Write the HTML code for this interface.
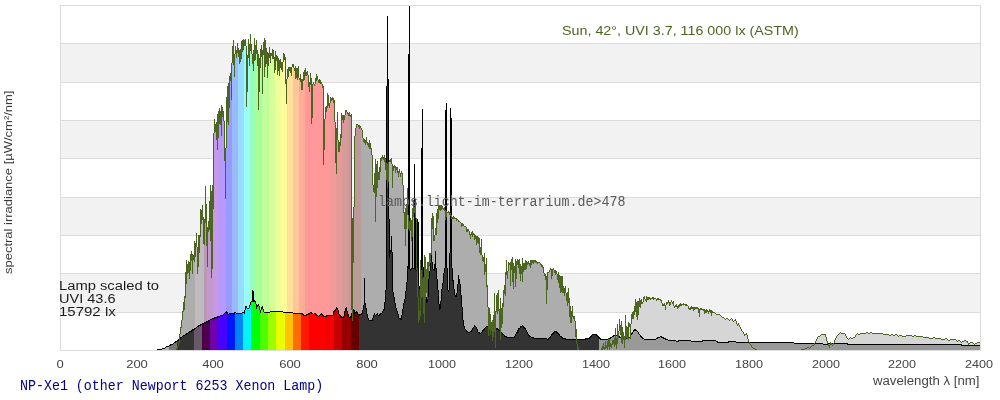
<!DOCTYPE html>
<html><head><meta charset="utf-8"><style>
html,body{margin:0;padding:0;background:#fff;width:1000px;height:400px;overflow:hidden}
body{position:relative;font-family:"Liberation Sans",sans-serif}
.t{position:absolute;white-space:pre;line-height:1;transform-origin:0 0;will-change:transform}
.tk{position:absolute;top:358px;width:60px;transform-origin:50% 0;text-align:center;font-size:11.7px;color:#444;line-height:1;transform:scaleX(1.11);will-change:transform}
.mono{font-family:"Liberation Mono",monospace}
.lm{font-size:12.5px;color:#1c1c1c}
</style></head><body>
<svg width="1000" height="400" viewBox="0 0 1000 400" shape-rendering="crispEdges" style="position:absolute;left:0;top:0"><rect x="60" y="44" width="920" height="38" fill="#f2f2f2"/><rect x="60" y="121" width="920" height="37" fill="#f2f2f2"/><rect x="60" y="198" width="920" height="37" fill="#f2f2f2"/><rect x="60" y="274" width="920" height="38" fill="#f2f2f2"/><rect x="60" y="5" width="920" height="1" fill="#dcdcdc"/><rect x="60" y="43" width="920" height="1" fill="#dcdcdc"/><rect x="60" y="82" width="920" height="1" fill="#dcdcdc"/><rect x="60" y="120" width="920" height="1" fill="#dcdcdc"/><rect x="60" y="158" width="920" height="1" fill="#dcdcdc"/><rect x="60" y="197" width="920" height="1" fill="#dcdcdc"/><rect x="60" y="235" width="920" height="1" fill="#dcdcdc"/><rect x="60" y="273" width="920" height="1" fill="#dcdcdc"/><rect x="60" y="312" width="920" height="1" fill="#dcdcdc"/><rect x="60" y="350" width="920" height="1" fill="#dcdcdc"/><rect x="60" y="5" width="1" height="346" fill="#dcdcdc"/><rect x="980" y="5" width="1" height="346" fill="#dcdcdc"/><path fill="#adadad" d="M177 349h1V350h-1zM178 346h1V350h-1zM179 343h1V350h-1zM180 334h1V350h-1zM181 328h1V350h-1zM182 320h1V350h-1zM183 312h1V350h-1zM184 310h1V350h-1zM185 298h1V350h-1zM186 284h1V350h-1zM187 274h1V350h-1zM188 273h1V350h-1zM189 279h1V350h-1zM190 271h1V350h-1zM191 261h1V350h-1zM192 274h1V350h-1zM193 260h1V350h-1zM194 262h1V350h-1zM361 130h1V350h-1zM362 138h1V350h-1zM363 142h1V350h-1zM364 143h1V350h-1zM365 145h1V350h-1zM366 143h1V350h-1zM367 145h1V350h-1zM368 147h1V350h-1zM369 149h1V350h-1zM370 149h1V350h-1zM371 155h1V350h-1zM372 185h1V350h-1zM373 192h1V350h-1zM374 193h1V350h-1zM375 222h1V350h-1zM376 197h1V350h-1zM377 188h1V350h-1zM378 180h1V350h-1zM379 180h1V350h-1zM380 172h1V350h-1zM381 161h1V350h-1zM382 159h1V350h-1zM383 160h1V350h-1zM384 162h1V350h-1zM385 170h1V350h-1zM386 180h1V350h-1zM387 188h1V350h-1zM388 182h1V350h-1zM389 162h1V350h-1zM390 162h1V350h-1zM391 164h1V350h-1zM392 188h1V350h-1zM393 171h1V350h-1zM394 168h1V350h-1zM395 173h1V350h-1zM396 170h1V350h-1zM397 173h1V350h-1zM398 177h1V350h-1zM399 173h1V350h-1zM400 177h1V350h-1zM401 174h1V350h-1zM402 185h1V350h-1zM403 213h1V350h-1zM404 229h1V350h-1zM405 246h1V350h-1zM406 229h1V350h-1zM407 215h1V350h-1zM408 229h1V350h-1zM409 231h1V350h-1zM410 231h1V350h-1zM411 241h1V350h-1zM412 237h1V350h-1zM413 217h1V350h-1zM414 213h1V350h-1zM415 218h1V350h-1zM416 270h1V350h-1zM417 297h1V350h-1zM418 323h1V350h-1zM419 320h1V350h-1zM420 316h1V350h-1zM421 298h1V350h-1zM422 297h1V350h-1zM423 314h1V350h-1zM424 323h1V350h-1zM425 299h1V350h-1zM426 293h1V350h-1zM427 299h1V350h-1zM428 279h1V350h-1zM429 266h1V350h-1zM430 263h1V350h-1zM431 255h1V350h-1zM432 229h1V350h-1zM433 241h1V350h-1zM434 241h1V350h-1zM435 235h1V350h-1zM436 235h1V350h-1zM437 223h1V350h-1zM438 219h1V350h-1zM439 210h1V350h-1zM440 211h1V350h-1zM441 210h1V350h-1zM442 209h1V350h-1zM443 210h1V350h-1zM444 211h1V350h-1zM445 220h1V350h-1zM446 217h1V350h-1zM447 213h1V350h-1zM448 213h1V350h-1zM449 215h1V350h-1zM450 216h1V350h-1zM451 219h1V350h-1zM452 219h1V350h-1zM453 219h1V350h-1zM454 219h1V350h-1zM455 219h1V350h-1zM456 221h1V350h-1zM457 220h1V350h-1zM458 222h1V350h-1zM459 222h1V350h-1zM460 223h1V350h-1zM461 227h1V350h-1zM462 226h1V350h-1zM463 226h1V350h-1zM464 227h1V350h-1zM465 227h1V350h-1zM466 232h1V350h-1zM467 232h1V350h-1zM468 231h1V350h-1zM469 235h1V350h-1zM470 239h1V350h-1zM471 235h1V350h-1zM472 237h1V350h-1zM473 235h1V350h-1zM474 240h1V350h-1zM475 239h1V350h-1zM476 245h1V350h-1zM477 243h1V350h-1zM478 244h1V350h-1zM479 253h1V350h-1zM480 255h1V350h-1zM481 255h1V350h-1zM482 261h1V350h-1zM483 262h1V350h-1zM484 275h1V350h-1zM485 272h1V350h-1zM486 287h1V350h-1zM487 307h1V350h-1zM488 336h1V350h-1zM489 329h1V350h-1zM490 335h1V350h-1zM491 331h1V350h-1zM492 341h1V350h-1zM493 337h1V350h-1zM494 332h1V350h-1zM495 348h1V350h-1zM496 312h1V350h-1zM497 314h1V350h-1zM498 311h1V350h-1zM499 330h1V350h-1zM500 340h1V350h-1zM501 328h1V350h-1zM502 324h1V350h-1zM503 307h1V350h-1zM504 294h1V350h-1zM505 296h1V350h-1zM506 275h1V350h-1zM507 279h1V350h-1zM508 271h1V350h-1zM509 265h1V350h-1zM510 286h1V350h-1zM511 270h1V350h-1zM512 282h1V350h-1zM513 289h1V350h-1zM514 273h1V350h-1zM515 287h1V350h-1zM516 279h1V350h-1zM517 265h1V350h-1zM518 268h1V350h-1zM519 274h1V350h-1zM520 281h1V350h-1zM521 274h1V350h-1zM522 282h1V350h-1zM523 272h1V350h-1zM524 270h1V350h-1zM525 270h1V350h-1zM526 269h1V350h-1zM527 265h1V350h-1zM528 264h1V350h-1zM529 266h1V350h-1zM530 268h1V350h-1zM531 265h1V350h-1zM532 263h1V350h-1zM533 264h1V350h-1zM534 262h1V350h-1zM535 263h1V350h-1zM536 263h1V350h-1zM537 264h1V350h-1zM538 263h1V350h-1zM539 263h1V350h-1zM540 265h1V350h-1zM541 267h1V350h-1zM542 268h1V350h-1zM543 273h1V350h-1zM544 276h1V350h-1zM545 280h1V350h-1zM546 304h1V350h-1zM547 290h1V350h-1zM548 273h1V350h-1zM549 272h1V350h-1zM550 270h1V350h-1zM551 279h1V350h-1zM552 276h1V350h-1zM553 270h1V350h-1zM554 273h1V350h-1zM555 275h1V350h-1zM556 274h1V350h-1zM557 280h1V350h-1zM558 283h1V350h-1zM559 288h1V350h-1zM560 293h1V350h-1zM561 292h1V350h-1zM562 293h1V350h-1zM563 293h1V350h-1zM564 296h1V350h-1zM565 293h1V350h-1zM566 301h1V350h-1zM567 306h1V350h-1zM568 303h1V350h-1zM569 317h1V350h-1zM570 323h1V350h-1zM571 323h1V350h-1zM572 317h1V350h-1zM573 319h1V350h-1zM574 321h1V350h-1zM575 337h1V350h-1zM576 344h1V350h-1z"/>
<path fill="#bebabe" d="M195 257h1V350h-1zM196 247h1V350h-1zM197 274h1V350h-1zM198 267h1V350h-1zM199 253h1V350h-1zM200 237h1V350h-1zM201 224h1V350h-1zM202 220h1V350h-1zM203 244h1V350h-1z"/>
<path fill="#b89ab8" d="M204 245h1V350h-1zM205 223h1V350h-1zM206 246h1V350h-1z"/>
<path fill="#c399cd" d="M207 267h1V350h-1zM208 232h1V350h-1zM209 230h1V350h-1zM210 241h1V350h-1zM211 278h1V350h-1zM212 269h1V350h-1z"/>
<path fill="#c499ea" d="M213 209h1V350h-1zM214 133h1V350h-1zM215 132h1V350h-1zM216 140h1V350h-1zM217 150h1V350h-1zM218 138h1V350h-1z"/>
<path fill="#b499ff" d="M219 124h1V350h-1zM220 125h1V350h-1zM221 136h1V350h-1zM222 117h1V350h-1zM223 121h1V350h-1zM224 161h1V350h-1zM225 199h1V350h-1z"/>
<path fill="#9999ff" d="M226 148h1V350h-1zM227 122h1V350h-1zM228 125h1V350h-1zM229 108h1V350h-1zM230 81h1V350h-1zM231 100h1V350h-1z"/>
<path fill="#99baff" d="M232 63h1V350h-1zM233 65h1V350h-1zM234 77h1V350h-1zM235 54h1V350h-1zM236 58h1V350h-1zM237 53h1V350h-1z"/>
<path fill="#99daff" d="M238 57h1V350h-1zM239 64h1V350h-1zM240 62h1V350h-1zM241 59h1V350h-1zM242 52h1V350h-1zM243 50h1V350h-1z"/>
<path fill="#99fbff" d="M244 46h1V350h-1zM245 46h1V350h-1zM246 107h1V350h-1zM247 92h1V350h-1zM248 58h1V350h-1zM249 66h1V350h-1z"/>
<path fill="#99ffb8" d="M250 51h1V350h-1zM251 54h1V350h-1zM252 64h1V350h-1zM253 71h1V350h-1zM254 61h1V350h-1zM255 60h1V350h-1z"/>
<path fill="#a8ff99" d="M256 54h1V350h-1zM257 66h1V350h-1zM258 110h1V350h-1zM259 92h1V350h-1zM260 68h1V350h-1zM261 57h1V350h-1z"/>
<path fill="#bfff99" d="M262 94h1V350h-1zM263 55h1V350h-1zM264 77h1V350h-1zM265 67h1V350h-1zM266 64h1V350h-1zM267 78h1V350h-1zM268 66h1V350h-1z"/>
<path fill="#d6ff99" d="M269 58h1V350h-1zM270 63h1V350h-1zM271 56h1V350h-1zM272 59h1V350h-1zM273 59h1V350h-1zM274 73h1V350h-1z"/>
<path fill="#eeff99" d="M275 70h1V350h-1zM276 61h1V350h-1zM277 75h1V350h-1zM278 71h1V350h-1zM279 76h1V350h-1zM280 68h1V350h-1z"/>
<path fill="#fff999" d="M281 70h1V350h-1zM282 72h1V350h-1zM283 62h1V350h-1zM284 60h1V350h-1zM285 84h1V350h-1zM286 104h1V350h-1z"/>
<path fill="#ffe099" d="M287 79h1V350h-1zM288 77h1V350h-1zM289 71h1V350h-1zM290 73h1V350h-1zM291 76h1V350h-1zM292 67h1V350h-1z"/>
<path fill="#ffc799" d="M293 68h1V350h-1zM294 71h1V350h-1zM295 79h1V350h-1zM296 78h1V350h-1zM297 80h1V350h-1zM298 78h1V350h-1z"/>
<path fill="#ffad99" d="M299 80h1V350h-1zM300 82h1V350h-1zM301 90h1V350h-1zM302 90h1V350h-1zM303 81h1V350h-1zM304 80h1V350h-1z"/>
<path fill="#ff9999" d="M305 76h1V350h-1zM306 76h1V350h-1zM307 75h1V350h-1zM308 87h1V350h-1zM309 92h1V350h-1zM310 85h1V350h-1zM311 124h1V350h-1zM312 118h1V350h-1zM313 84h1V350h-1zM314 86h1V350h-1zM315 84h1V350h-1zM316 81h1V350h-1zM317 80h1V350h-1zM318 83h1V350h-1zM319 83h1V350h-1zM320 84h1V350h-1zM321 84h1V350h-1zM322 88h1V350h-1zM323 165h1V350h-1zM324 150h1V350h-1zM325 119h1V350h-1zM326 112h1V350h-1zM327 108h1V350h-1zM328 106h1V350h-1zM329 108h1V350h-1z"/>
<path fill="#f49999" d="M330 103h1V350h-1zM331 101h1V350h-1zM332 100h1V350h-1zM333 103h1V350h-1zM334 122h1V350h-1zM335 163h1V350h-1z"/>
<path fill="#e69999" d="M336 174h1V350h-1zM337 140h1V350h-1zM338 152h1V350h-1zM339 152h1V350h-1zM340 146h1V350h-1zM341 138h1V350h-1z"/>
<path fill="#d89999" d="M342 120h1V350h-1zM343 123h1V350h-1zM344 120h1V350h-1zM345 115h1V350h-1zM346 112h1V350h-1zM347 114h1V350h-1z"/>
<path fill="#c99999" d="M348 116h1V350h-1zM349 116h1V350h-1zM350 117h1V350h-1zM351 310h1V350h-1zM352 321h1V350h-1zM353 263h1V350h-1z"/>
<path fill="#bb9999" d="M354 207h1V350h-1zM355 136h1V350h-1zM356 128h1V350h-1zM357 125h1V350h-1zM358 127h1V350h-1zM359 129h1V350h-1zM360 128h1V350h-1z"/>
<path fill="#d6d6d6" d="M603 349h1V350h-1zM605 349h1V350h-1zM606 348h1V350h-1zM608 347h1V350h-1zM610 347h1V350h-1zM611 348h1V350h-1zM612 345h1V350h-1zM613 344h1V350h-1zM614 347h1V350h-1zM615 345h1V350h-1zM616 349h1V350h-1zM617 344h1V350h-1zM618 338h1V350h-1zM619 331h1V350h-1zM620 335h1V350h-1zM621 343h1V350h-1zM622 344h1V350h-1zM623 340h1V350h-1zM624 348h1V350h-1zM625 340h1V350h-1zM626 338h1V350h-1zM627 339h1V350h-1zM628 340h1V350h-1zM629 327h1V350h-1zM630 339h1V350h-1zM631 324h1V350h-1zM632 319h1V350h-1zM633 319h1V350h-1zM634 315h1V350h-1zM635 312h1V350h-1zM636 317h1V350h-1zM637 320h1V350h-1zM638 315h1V350h-1zM639 307h1V350h-1zM640 308h1V350h-1zM641 304h1V350h-1zM642 304h1V350h-1zM643 302h1V350h-1zM644 299h1V350h-1zM645 301h1V350h-1zM646 302h1V350h-1zM647 300h1V350h-1zM648 300h1V350h-1zM649 299h1V350h-1zM650 300h1V350h-1zM651 299h1V350h-1zM652 299h1V350h-1zM653 300h1V350h-1zM654 299h1V350h-1zM655 299h1V350h-1zM656 301h1V350h-1zM657 300h1V350h-1zM658 300h1V350h-1zM659 300h1V350h-1zM660 301h1V350h-1zM661 303h1V350h-1zM662 306h1V350h-1zM663 306h1V350h-1zM664 306h1V350h-1zM665 310h1V350h-1zM666 305h1V350h-1zM667 304h1V350h-1zM668 303h1V350h-1zM669 306h1V350h-1zM670 305h1V350h-1zM671 302h1V350h-1zM672 304h1V350h-1zM673 306h1V350h-1zM674 308h1V350h-1zM675 307h1V350h-1zM676 307h1V350h-1zM677 309h1V350h-1zM678 308h1V350h-1zM679 307h1V350h-1zM680 306h1V350h-1zM681 306h1V350h-1zM682 305h1V350h-1zM683 305h1V350h-1zM684 305h1V350h-1zM685 306h1V350h-1zM686 306h1V350h-1zM687 306h1V350h-1zM688 309h1V350h-1zM689 310h1V350h-1zM690 310h1V350h-1zM691 309h1V350h-1zM692 309h1V350h-1zM693 311h1V350h-1zM694 310h1V350h-1zM695 309h1V350h-1zM696 309h1V350h-1zM697 309h1V350h-1zM698 313h1V350h-1zM699 317h1V350h-1zM700 310h1V350h-1zM701 310h1V350h-1zM702 310h1V350h-1zM703 311h1V350h-1zM704 314h1V350h-1zM705 313h1V350h-1zM706 313h1V350h-1zM707 312h1V350h-1zM708 314h1V350h-1zM709 312h1V350h-1zM710 313h1V350h-1zM711 316h1V350h-1zM712 313h1V350h-1zM713 313h1V350h-1zM714 313h1V350h-1zM715 314h1V350h-1zM716 315h1V350h-1zM717 315h1V350h-1zM718 315h1V350h-1zM719 315h1V350h-1zM720 316h1V350h-1zM721 317h1V350h-1zM722 318h1V350h-1zM723 318h1V350h-1zM724 319h1V350h-1zM725 320h1V350h-1zM726 319h1V350h-1zM727 319h1V350h-1zM728 320h1V350h-1zM729 321h1V350h-1zM730 320h1V350h-1zM731 319h1V350h-1zM732 321h1V350h-1zM733 322h1V350h-1zM734 321h1V350h-1zM735 321h1V350h-1zM736 324h1V350h-1zM737 326h1V350h-1zM738 325h1V350h-1zM739 327h1V350h-1zM740 329h1V350h-1zM741 331h1V350h-1zM742 332h1V350h-1zM743 334h1V350h-1zM744 336h1V350h-1zM745 335h1V350h-1zM746 335h1V350h-1zM747 339h1V350h-1zM748 342h1V350h-1zM749 344h1V350h-1zM750 345h1V350h-1zM751 347h1V350h-1zM752 348h1V350h-1zM753 349h1V350h-1zM754 349h1V350h-1zM805 349h1V350h-1zM806 349h1V350h-1zM807 348h1V350h-1zM808 348h1V350h-1zM809 349h1V350h-1zM810 348h1V350h-1zM811 347h1V350h-1zM812 346h1V350h-1zM813 346h1V350h-1zM814 345h1V350h-1zM815 343h1V350h-1zM816 341h1V350h-1zM817 339h1V350h-1zM818 337h1V350h-1zM819 337h1V350h-1zM820 336h1V350h-1zM821 335h1V350h-1zM822 335h1V350h-1zM823 335h1V350h-1zM824 335h1V350h-1zM825 337h1V350h-1zM826 341h1V350h-1zM827 344h1V350h-1zM828 346h1V350h-1zM829 348h1V350h-1zM830 345h1V350h-1zM831 345h1V350h-1zM832 346h1V350h-1zM833 345h1V350h-1zM834 343h1V350h-1zM835 340h1V350h-1zM836 338h1V350h-1zM837 336h1V350h-1zM838 335h1V350h-1zM839 334h1V350h-1zM840 333h1V350h-1zM841 334h1V350h-1zM842 334h1V350h-1zM843 334h1V350h-1zM844 334h1V350h-1zM845 336h1V350h-1zM846 338h1V350h-1zM847 339h1V350h-1zM848 340h1V350h-1zM849 339h1V350h-1zM850 338h1V350h-1zM851 339h1V350h-1zM852 339h1V350h-1zM853 338h1V350h-1zM854 338h1V350h-1zM855 337h1V350h-1zM856 335h1V350h-1zM857 334h1V350h-1zM858 335h1V350h-1zM859 335h1V350h-1zM860 334h1V350h-1zM861 334h1V350h-1zM862 334h1V350h-1zM863 334h1V350h-1zM864 334h1V350h-1zM865 334h1V350h-1zM866 333h1V350h-1zM867 333h1V350h-1zM868 334h1V350h-1zM869 334h1V350h-1zM870 333h1V350h-1zM871 333h1V350h-1zM872 334h1V350h-1zM873 334h1V350h-1zM874 334h1V350h-1zM875 334h1V350h-1zM876 334h1V350h-1zM877 334h1V350h-1zM878 334h1V350h-1zM879 334h1V350h-1zM880 334h1V350h-1zM881 334h1V350h-1zM882 334h1V350h-1zM883 335h1V350h-1zM884 335h1V350h-1zM885 335h1V350h-1zM886 335h1V350h-1zM887 335h1V350h-1zM888 335h1V350h-1zM889 336h1V350h-1zM890 336h1V350h-1zM891 335h1V350h-1zM892 335h1V350h-1zM893 336h1V350h-1zM894 336h1V350h-1zM895 335h1V350h-1zM896 335h1V350h-1zM897 336h1V350h-1zM898 337h1V350h-1zM899 336h1V350h-1zM900 336h1V350h-1zM901 336h1V350h-1zM902 337h1V350h-1zM903 337h1V350h-1zM904 337h1V350h-1zM905 337h1V350h-1zM906 336h1V350h-1zM907 336h1V350h-1zM908 336h1V350h-1zM909 336h1V350h-1zM910 336h1V350h-1zM911 336h1V350h-1zM912 337h1V350h-1zM913 337h1V350h-1zM914 336h1V350h-1zM915 336h1V350h-1zM916 337h1V350h-1zM917 337h1V350h-1zM918 337h1V350h-1zM919 337h1V350h-1zM920 337h1V350h-1zM921 337h1V350h-1zM922 337h1V350h-1zM923 338h1V350h-1zM924 338h1V350h-1zM925 338h1V350h-1zM926 338h1V350h-1zM927 338h1V350h-1zM928 338h1V350h-1zM929 339h1V350h-1zM930 339h1V350h-1zM931 339h1V350h-1zM932 339h1V350h-1zM933 338h1V350h-1zM934 338h1V350h-1zM935 339h1V350h-1zM936 339h1V350h-1zM937 339h1V350h-1zM938 339h1V350h-1zM939 339h1V350h-1zM940 339h1V350h-1zM941 340h1V350h-1zM942 340h1V350h-1zM943 340h1V350h-1zM944 340h1V350h-1zM945 339h1V350h-1zM946 339h1V350h-1zM947 340h1V350h-1zM948 341h1V350h-1zM949 341h1V350h-1zM950 340h1V350h-1zM951 340h1V350h-1zM952 340h1V350h-1zM953 340h1V350h-1zM954 340h1V350h-1zM955 340h1V350h-1zM956 341h1V350h-1zM957 342h1V350h-1zM958 341h1V350h-1zM959 341h1V350h-1zM960 342h1V350h-1zM961 343h1V350h-1zM962 342h1V350h-1zM963 342h1V350h-1zM964 341h1V350h-1zM965 341h1V350h-1zM966 342h1V350h-1zM967 343h1V350h-1zM968 345h1V350h-1zM969 344h1V350h-1zM970 343h1V350h-1zM971 343h1V350h-1zM972 343h1V350h-1zM973 344h1V350h-1zM974 345h1V350h-1zM975 344h1V350h-1zM976 344h1V350h-1zM977 343h1V350h-1zM978 343h1V350h-1zM979 343h1V350h-1z"/><path fill="#b0b0b0" d="M162 349h1V350h-1zM163 349h1V350h-1zM164 349h1V350h-1zM165 348h1V350h-1zM166 347h1V350h-1zM167 347h1V350h-1zM168 347h1V350h-1z"/>
<path fill="#777777" d="M169 346h1V350h-1zM170 346h1V350h-1zM171 345h1V350h-1zM172 345h1V350h-1zM173 344h1V350h-1zM174 343h1V350h-1zM175 343h1V350h-1zM176 342h1V350h-1z"/>
<path fill="#333333" d="M177 341h1V350h-1zM178 341h1V350h-1zM179 340h1V350h-1zM180 339h1V350h-1zM181 338h1V350h-1zM182 337h1V350h-1zM183 336h1V350h-1zM184 336h1V350h-1zM185 335h1V350h-1zM186 335h1V350h-1zM187 334h1V350h-1zM188 333h1V350h-1zM189 333h1V350h-1zM190 332h1V350h-1zM191 332h1V350h-1zM192 331h1V350h-1zM193 330h1V350h-1zM359 316h1V350h-1zM360 315h1V350h-1zM361 315h1V350h-1zM362 314h1V350h-1zM363 310h1V350h-1zM364 305h1V350h-1zM365 308h1V350h-1zM366 314h1V350h-1zM367 318h1V350h-1zM368 320h1V350h-1zM369 321h1V350h-1zM370 321h1V350h-1zM371 321h1V350h-1zM372 321h1V350h-1zM373 318h1V350h-1zM374 315h1V350h-1zM375 316h1V350h-1zM376 315h1V350h-1zM377 315h1V350h-1zM378 316h1V350h-1zM379 316h1V350h-1zM380 315h1V350h-1zM381 314h1V350h-1zM382 313h1V350h-1zM383 311h1V350h-1zM384 310h1V350h-1zM385 302h1V350h-1zM386 290h1V350h-1zM387 86h1V350h-1zM388 219h1V350h-1zM389 258h1V350h-1zM390 254h1V350h-1zM391 252h1V350h-1zM392 292h1V350h-1zM393 297h1V350h-1zM394 303h1V350h-1zM395 308h1V350h-1zM396 311h1V350h-1zM397 314h1V350h-1zM398 318h1V350h-1zM399 319h1V350h-1zM400 320h1V350h-1zM401 320h1V350h-1zM402 315h1V350h-1zM403 309h1V350h-1zM404 303h1V350h-1zM405 299h1V350h-1zM406 291h1V350h-1zM407 282h1V350h-1zM408 269h1V350h-1zM409 269h1V350h-1zM410 271h1V350h-1zM411 269h1V350h-1zM412 269h1V350h-1zM413 269h1V350h-1zM414 269h1V350h-1zM415 270h1V350h-1zM416 271h1V350h-1zM417 268h1V350h-1zM418 286h1V350h-1zM419 289h1V350h-1zM420 291h1V350h-1zM421 277h1V350h-1zM422 267h1V350h-1zM423 279h1V350h-1zM424 289h1V350h-1zM425 297h1V350h-1zM426 303h1V350h-1zM427 302h1V350h-1zM428 297h1V350h-1zM429 279h1V350h-1zM430 271h1V350h-1zM431 262h1V350h-1zM432 269h1V350h-1zM433 270h1V350h-1zM434 271h1V350h-1zM435 269h1V350h-1zM436 279h1V350h-1zM437 290h1V350h-1zM438 304h1V350h-1zM439 310h1V350h-1zM440 309h1V350h-1zM441 301h1V350h-1zM442 289h1V350h-1zM443 283h1V350h-1zM444 273h1V350h-1zM445 268h1V350h-1zM446 268h1V350h-1zM447 290h1V350h-1zM448 292h1V350h-1zM449 290h1V350h-1zM450 253h1V350h-1zM451 268h1V350h-1zM452 281h1V350h-1zM453 289h1V350h-1zM454 295h1V350h-1zM455 297h1V350h-1zM456 297h1V350h-1zM457 293h1V350h-1zM458 284h1V350h-1zM459 284h1V350h-1zM460 295h1V350h-1zM461 307h1V350h-1zM462 320h1V350h-1zM463 326h1V350h-1zM464 329h1V350h-1zM465 330h1V350h-1zM466 332h1V350h-1zM467 332h1V350h-1zM468 333h1V350h-1zM469 333h1V350h-1zM470 332h1V350h-1zM471 332h1V350h-1zM472 330h1V350h-1zM473 328h1V350h-1zM474 327h1V350h-1zM475 327h1V350h-1zM476 329h1V350h-1zM477 332h1V350h-1zM478 333h1V350h-1zM479 334h1V350h-1zM480 334h1V350h-1zM481 333h1V350h-1zM482 332h1V350h-1zM483 331h1V350h-1zM484 330h1V350h-1zM485 328h1V350h-1zM486 327h1V350h-1zM487 327h1V350h-1zM488 327h1V350h-1zM489 327h1V350h-1zM490 328h1V350h-1zM491 328h1V350h-1zM492 328h1V350h-1zM493 328h1V350h-1zM494 328h1V350h-1zM495 329h1V350h-1zM496 329h1V350h-1zM497 330h1V350h-1zM498 330h1V350h-1zM499 331h1V350h-1zM500 332h1V350h-1zM501 333h1V350h-1zM502 335h1V350h-1zM503 335h1V350h-1zM504 337h1V350h-1zM505 337h1V350h-1zM506 338h1V350h-1zM507 338h1V350h-1zM508 338h1V350h-1zM509 338h1V350h-1zM510 338h1V350h-1zM511 338h1V350h-1zM512 338h1V350h-1zM513 338h1V350h-1zM514 338h1V350h-1zM515 336h1V350h-1zM516 334h1V350h-1zM517 333h1V350h-1zM518 331h1V350h-1zM519 329h1V350h-1zM520 328h1V350h-1zM521 327h1V350h-1zM522 326h1V350h-1zM523 328h1V350h-1zM524 329h1V350h-1zM525 330h1V350h-1zM526 332h1V350h-1zM527 334h1V350h-1zM528 336h1V350h-1zM529 337h1V350h-1zM530 337h1V350h-1zM531 338h1V350h-1zM532 338h1V350h-1zM533 338h1V350h-1zM534 339h1V350h-1zM535 339h1V350h-1zM536 339h1V350h-1zM537 339h1V350h-1zM538 339h1V350h-1zM539 339h1V350h-1zM540 339h1V350h-1zM541 339h1V350h-1zM542 339h1V350h-1zM543 339h1V350h-1zM544 339h1V350h-1zM545 339h1V350h-1zM546 339h1V350h-1zM547 340h1V350h-1zM548 340h1V350h-1zM549 338h1V350h-1zM550 338h1V350h-1zM551 336h1V350h-1zM552 335h1V350h-1zM553 334h1V350h-1zM554 333h1V350h-1zM555 332h1V350h-1zM556 333h1V350h-1zM557 334h1V350h-1zM558 335h1V350h-1zM559 336h1V350h-1zM560 337h1V350h-1zM561 338h1V350h-1zM562 339h1V350h-1zM563 339h1V350h-1zM564 339h1V350h-1zM565 340h1V350h-1zM566 340h1V350h-1zM567 340h1V350h-1zM568 340h1V350h-1zM569 340h1V350h-1zM570 340h1V350h-1zM571 340h1V350h-1zM572 340h1V350h-1zM573 340h1V350h-1zM574 340h1V350h-1zM575 340h1V350h-1zM576 340h1V350h-1zM577 340h1V350h-1zM578 340h1V350h-1zM579 340h1V350h-1zM580 340h1V350h-1zM581 340h1V350h-1zM582 340h1V350h-1zM583 340h1V350h-1zM584 340h1V350h-1zM585 340h1V350h-1zM586 339h1V350h-1zM587 339h1V350h-1zM588 339h1V350h-1zM589 339h1V350h-1zM590 338h1V350h-1zM591 337h1V350h-1zM592 335h1V350h-1zM593 335h1V350h-1zM594 335h1V350h-1zM595 335h1V350h-1zM596 336h1V350h-1zM597 337h1V350h-1zM598 338h1V350h-1z"/>
<path fill="#655a65" d="M194 330h1V350h-1zM195 329h1V350h-1zM196 328h1V350h-1zM197 327h1V350h-1zM198 327h1V350h-1zM199 326h1V350h-1zM200 326h1V350h-1zM201 325h1V350h-1z"/>
<path fill="#4c004c" d="M202 324h1V350h-1zM203 324h1V350h-1zM204 323h1V350h-1zM205 323h1V350h-1zM206 323h1V350h-1zM207 322h1V350h-1zM208 322h1V350h-1zM209 321h1V350h-1z"/>
<path fill="#6f00ac" d="M210 320h1V350h-1zM211 320h1V350h-1zM212 319h1V350h-1zM213 319h1V350h-1zM214 319h1V350h-1zM215 318h1V350h-1zM216 318h1V350h-1zM217 318h1V350h-1z"/>
<path fill="#4800ff" d="M218 317h1V350h-1zM219 317h1V350h-1zM220 316h1V350h-1zM221 316h1V350h-1zM222 316h1V350h-1zM223 315h1V350h-1zM224 314h1V350h-1zM225 313h1V350h-1zM226 313h1V350h-1z"/>
<path fill="#0017ff" d="M227 314h1V350h-1zM228 315h1V350h-1zM229 314h1V350h-1zM230 314h1V350h-1zM231 314h1V350h-1zM232 314h1V350h-1zM233 314h1V350h-1zM234 314h1V350h-1z"/>
<path fill="#0085ff" d="M235 313h1V350h-1zM236 314h1V350h-1zM237 314h1V350h-1zM238 314h1V350h-1zM239 314h1V350h-1zM240 314h1V350h-1zM241 314h1V350h-1zM242 313h1V350h-1z"/>
<path fill="#00f3ff" d="M243 313h1V350h-1zM244 314h1V350h-1zM245 310h1V350h-1zM246 308h1V350h-1zM247 309h1V350h-1zM248 309h1V350h-1zM249 308h1V350h-1zM250 305h1V350h-1z"/>
<path fill="#00ff09" d="M251 302h1V350h-1zM252 302h1V350h-1zM253 302h1V350h-1zM254 302h1V350h-1zM255 304h1V350h-1zM256 309h1V350h-1zM257 307h1V350h-1zM258 306h1V350h-1zM259 310h1V350h-1z"/>
<path fill="#4cff00" d="M260 313h1V350h-1zM261 310h1V350h-1zM262 309h1V350h-1zM263 312h1V350h-1zM264 313h1V350h-1zM265 313h1V350h-1zM266 313h1V350h-1zM267 313h1V350h-1z"/>
<path fill="#9bff00" d="M268 313h1V350h-1zM269 313h1V350h-1zM270 312h1V350h-1zM271 312h1V350h-1zM272 312h1V350h-1zM273 312h1V350h-1zM274 312h1V350h-1zM275 312h1V350h-1z"/>
<path fill="#e9ff00" d="M276 312h1V350h-1zM277 312h1V350h-1zM278 312h1V350h-1zM279 312h1V350h-1zM280 312h1V350h-1zM281 312h1V350h-1zM282 312h1V350h-1zM283 313h1V350h-1zM284 313h1V350h-1z"/>
<path fill="#ffc200" d="M285 313h1V350h-1zM286 313h1V350h-1zM287 313h1V350h-1zM288 313h1V350h-1zM289 313h1V350h-1zM290 313h1V350h-1zM291 313h1V350h-1zM292 313h1V350h-1z"/>
<path fill="#ff6d00" d="M293 314h1V350h-1zM294 314h1V350h-1zM295 314h1V350h-1zM296 314h1V350h-1zM297 314h1V350h-1zM298 314h1V350h-1zM299 314h1V350h-1zM300 314h1V350h-1z"/>
<path fill="#ff1900" d="M301 314h1V350h-1zM302 315h1V350h-1zM303 316h1V350h-1zM304 316h1V350h-1zM305 316h1V350h-1zM306 316h1V350h-1zM307 315h1V350h-1zM308 315h1V350h-1z"/>
<path fill="#ff0000" d="M309 314h1V350h-1zM310 313h1V350h-1zM311 314h1V350h-1zM312 314h1V350h-1zM313 315h1V350h-1zM314 314h1V350h-1zM315 315h1V350h-1zM316 316h1V350h-1zM317 316h1V350h-1zM318 317h1V350h-1zM319 316h1V350h-1zM320 315h1V350h-1zM321 315h1V350h-1zM322 316h1V350h-1zM323 317h1V350h-1zM324 317h1V350h-1zM325 317h1V350h-1z"/>
<path fill="#f70000" d="M326 317h1V350h-1zM327 316h1V350h-1zM328 316h1V350h-1zM329 316h1V350h-1zM330 316h1V350h-1zM331 316h1V350h-1zM332 316h1V350h-1zM333 315h1V350h-1z"/>
<path fill="#c70000" d="M334 312h1V350h-1zM335 311h1V350h-1zM336 309h1V350h-1zM337 310h1V350h-1zM338 314h1V350h-1zM339 316h1V350h-1zM340 317h1V350h-1zM341 318h1V350h-1z"/>
<path fill="#970000" d="M342 318h1V350h-1zM343 318h1V350h-1zM344 316h1V350h-1zM345 311h1V350h-1zM346 311h1V350h-1zM347 315h1V350h-1zM348 317h1V350h-1zM349 318h1V350h-1zM350 318h1V350h-1z"/>
<path fill="#670000" d="M351 317h1V350h-1zM352 313h1V350h-1zM353 311h1V350h-1zM354 314h1V350h-1zM355 313h1V350h-1zM356 313h1V350h-1zM357 315h1V350h-1zM358 315h1V350h-1z"/>
<path fill="#999999" d="M599 339h1V350h-1zM600 340h1V350h-1zM601 340h1V350h-1zM602 340h1V350h-1zM603 340h1V350h-1zM604 340h1V350h-1zM605 340h1V350h-1zM606 340h1V350h-1zM607 340h1V350h-1zM608 340h1V350h-1zM609 340h1V350h-1zM610 339h1V350h-1zM611 338h1V350h-1zM612 337h1V350h-1zM613 337h1V350h-1zM614 336h1V350h-1zM615 336h1V350h-1zM616 336h1V350h-1zM617 337h1V350h-1zM618 337h1V350h-1zM619 338h1V350h-1zM620 338h1V350h-1zM621 339h1V350h-1zM622 339h1V350h-1zM623 339h1V350h-1zM624 339h1V350h-1zM625 339h1V350h-1zM626 339h1V350h-1zM627 339h1V350h-1zM628 339h1V350h-1zM629 338h1V350h-1zM630 337h1V350h-1zM631 335h1V350h-1zM632 334h1V350h-1zM633 332h1V350h-1zM634 331h1V350h-1zM635 331h1V350h-1zM636 331h1V350h-1zM637 332h1V350h-1zM638 334h1V350h-1zM639 335h1V350h-1zM640 337h1V350h-1zM641 338h1V350h-1zM642 339h1V350h-1zM643 339h1V350h-1zM644 340h1V350h-1zM645 340h1V350h-1zM646 340h1V350h-1zM647 340h1V350h-1zM648 340h1V350h-1zM649 340h1V350h-1zM650 340h1V350h-1zM651 340h1V350h-1zM652 340h1V350h-1zM653 340h1V350h-1zM654 340h1V350h-1zM655 340h1V350h-1zM656 339h1V350h-1zM657 339h1V350h-1zM658 338h1V350h-1zM659 338h1V350h-1zM660 337h1V350h-1zM661 338h1V350h-1zM662 338h1V350h-1zM663 339h1V350h-1zM664 339h1V350h-1zM665 340h1V350h-1zM666 340h1V350h-1zM667 340h1V350h-1zM668 341h1V350h-1zM669 341h1V350h-1zM670 341h1V350h-1zM671 341h1V350h-1zM672 341h1V350h-1zM673 341h1V350h-1zM674 341h1V350h-1zM675 341h1V350h-1zM676 342h1V350h-1zM677 342h1V350h-1zM678 342h1V350h-1zM679 341h1V350h-1zM680 341h1V350h-1zM681 341h1V350h-1zM682 341h1V350h-1zM683 341h1V350h-1zM684 341h1V350h-1zM685 341h1V350h-1zM686 341h1V350h-1zM687 341h1V350h-1zM688 341h1V350h-1zM689 341h1V350h-1zM690 341h1V350h-1zM691 342h1V350h-1zM692 342h1V350h-1zM693 342h1V350h-1zM694 342h1V350h-1zM695 342h1V350h-1zM696 342h1V350h-1zM697 342h1V350h-1zM698 342h1V350h-1zM699 342h1V350h-1zM700 342h1V350h-1zM701 342h1V350h-1zM702 342h1V350h-1zM703 341h1V350h-1zM704 341h1V350h-1zM705 341h1V350h-1zM706 341h1V350h-1zM707 341h1V350h-1zM708 341h1V350h-1zM709 341h1V350h-1zM710 341h1V350h-1zM711 341h1V350h-1zM712 341h1V350h-1zM713 341h1V350h-1zM714 341h1V350h-1zM715 341h1V350h-1zM716 342h1V350h-1zM717 343h1V350h-1zM718 343h1V350h-1zM719 343h1V350h-1zM720 343h1V350h-1zM721 343h1V350h-1zM722 343h1V350h-1zM723 343h1V350h-1zM724 343h1V350h-1zM725 343h1V350h-1zM726 343h1V350h-1zM727 343h1V350h-1zM728 343h1V350h-1zM729 342h1V350h-1zM730 342h1V350h-1zM731 342h1V350h-1zM732 342h1V350h-1zM733 342h1V350h-1zM734 342h1V350h-1zM735 342h1V350h-1zM736 343h1V350h-1zM737 343h1V350h-1zM738 343h1V350h-1zM739 343h1V350h-1zM740 343h1V350h-1zM741 343h1V350h-1zM742 343h1V350h-1zM743 343h1V350h-1zM744 343h1V350h-1zM745 343h1V350h-1zM746 343h1V350h-1zM747 343h1V350h-1zM748 343h1V350h-1zM749 343h1V350h-1zM750 343h1V350h-1zM751 343h1V350h-1zM752 343h1V350h-1zM753 343h1V350h-1zM754 343h1V350h-1zM755 343h1V350h-1zM756 343h1V350h-1zM757 343h1V350h-1zM758 343h1V350h-1zM759 343h1V350h-1zM760 343h1V350h-1zM761 343h1V350h-1zM762 343h1V350h-1zM763 343h1V350h-1zM764 343h1V350h-1zM765 343h1V350h-1zM766 343h1V350h-1zM767 343h1V350h-1zM768 343h1V350h-1zM769 343h1V350h-1zM770 343h1V350h-1zM771 343h1V350h-1zM772 343h1V350h-1zM773 343h1V350h-1zM774 343h1V350h-1zM775 343h1V350h-1zM776 343h1V350h-1zM777 343h1V350h-1zM778 343h1V350h-1zM779 343h1V350h-1zM780 343h1V350h-1zM781 343h1V350h-1zM782 343h1V350h-1zM783 343h1V350h-1zM784 343h1V350h-1zM785 343h1V350h-1zM786 343h1V350h-1zM787 343h1V350h-1zM788 343h1V350h-1zM789 343h1V350h-1zM790 343h1V350h-1zM791 343h1V350h-1zM792 343h1V350h-1zM793 343h1V350h-1zM794 344h1V350h-1zM795 344h1V350h-1zM796 344h1V350h-1zM797 344h1V350h-1zM798 344h1V350h-1zM799 344h1V350h-1zM800 344h1V350h-1zM801 344h1V350h-1zM802 344h1V350h-1zM803 344h1V350h-1zM804 344h1V350h-1zM805 344h1V350h-1zM806 344h1V350h-1zM807 344h1V350h-1zM808 344h1V350h-1zM809 344h1V350h-1zM810 344h1V350h-1zM811 344h1V350h-1zM812 344h1V350h-1zM813 344h1V350h-1zM814 344h1V350h-1zM815 344h1V350h-1zM816 344h1V350h-1zM817 344h1V350h-1zM818 344h1V350h-1zM819 344h1V350h-1zM820 344h1V350h-1zM821 344h1V350h-1zM822 344h1V350h-1zM823 345h1V350h-1zM824 345h1V350h-1zM825 345h1V350h-1zM826 345h1V350h-1zM827 345h1V350h-1zM828 345h1V350h-1zM829 344h1V350h-1zM830 344h1V350h-1zM831 344h1V350h-1zM832 344h1V350h-1zM833 344h1V350h-1zM834 344h1V350h-1zM835 344h1V350h-1zM836 344h1V350h-1zM837 344h1V350h-1zM838 344h1V350h-1zM839 344h1V350h-1zM840 344h1V350h-1zM841 344h1V350h-1zM842 344h1V350h-1zM843 344h1V350h-1zM844 344h1V350h-1zM845 344h1V350h-1zM846 344h1V350h-1zM847 345h1V350h-1zM848 345h1V350h-1zM849 345h1V350h-1zM850 345h1V350h-1zM851 345h1V350h-1zM852 345h1V350h-1zM853 345h1V350h-1zM854 345h1V350h-1zM855 345h1V350h-1zM856 345h1V350h-1zM857 345h1V350h-1zM858 345h1V350h-1zM859 345h1V350h-1zM860 345h1V350h-1zM861 345h1V350h-1zM862 345h1V350h-1zM863 345h1V350h-1zM864 345h1V350h-1zM865 345h1V350h-1zM866 345h1V350h-1zM867 345h1V350h-1zM868 345h1V350h-1zM869 345h1V350h-1zM870 345h1V350h-1zM871 345h1V350h-1zM872 345h1V350h-1zM873 345h1V350h-1zM874 345h1V350h-1zM875 345h1V350h-1zM876 345h1V350h-1zM877 345h1V350h-1zM878 345h1V350h-1zM879 345h1V350h-1zM880 345h1V350h-1zM881 345h1V350h-1zM882 345h1V350h-1zM883 345h1V350h-1zM884 345h1V350h-1zM885 345h1V350h-1zM886 345h1V350h-1zM887 345h1V350h-1zM888 345h1V350h-1zM889 345h1V350h-1zM890 345h1V350h-1zM891 345h1V350h-1zM892 345h1V350h-1zM893 345h1V350h-1zM894 345h1V350h-1zM895 345h1V350h-1zM896 345h1V350h-1zM897 345h1V350h-1zM898 345h1V350h-1zM899 345h1V350h-1zM900 345h1V350h-1zM901 345h1V350h-1zM902 345h1V350h-1zM903 345h1V350h-1zM904 345h1V350h-1zM905 345h1V350h-1zM906 345h1V350h-1zM907 345h1V350h-1zM908 345h1V350h-1zM909 345h1V350h-1zM910 345h1V350h-1zM911 345h1V350h-1zM912 345h1V350h-1zM913 345h1V350h-1zM914 345h1V350h-1zM915 345h1V350h-1zM916 345h1V350h-1zM917 345h1V350h-1zM918 345h1V350h-1zM919 345h1V350h-1zM920 345h1V350h-1zM921 345h1V350h-1zM922 345h1V350h-1zM923 345h1V350h-1zM924 345h1V350h-1zM925 345h1V350h-1zM926 345h1V350h-1zM927 345h1V350h-1zM928 345h1V350h-1zM929 345h1V350h-1zM930 345h1V350h-1zM931 345h1V350h-1zM932 345h1V350h-1zM933 345h1V350h-1zM934 345h1V350h-1zM935 345h1V350h-1zM936 345h1V350h-1zM937 345h1V350h-1zM938 345h1V350h-1zM939 345h1V350h-1zM940 345h1V350h-1zM941 345h1V350h-1zM942 345h1V350h-1zM943 345h1V350h-1zM944 345h1V350h-1zM945 345h1V350h-1zM946 345h1V350h-1zM947 345h1V350h-1zM948 345h1V350h-1zM949 345h1V350h-1zM950 345h1V350h-1zM951 345h1V350h-1zM952 345h1V350h-1zM953 345h1V350h-1zM954 345h1V350h-1zM955 345h1V350h-1zM956 345h1V350h-1zM957 345h1V350h-1zM958 345h1V350h-1zM959 345h1V350h-1zM960 345h1V350h-1zM961 346h1V350h-1zM962 346h1V350h-1zM963 346h1V350h-1zM964 346h1V350h-1zM965 346h1V350h-1zM966 346h1V350h-1zM967 346h1V350h-1zM968 346h1V350h-1zM969 346h1V350h-1zM970 346h1V350h-1zM971 346h1V350h-1zM972 346h1V350h-1zM973 346h1V350h-1zM974 346h1V350h-1zM975 346h1V350h-1zM976 346h1V350h-1zM977 346h1V350h-1zM978 346h1V350h-1zM979 346h1V350h-1z"/><path fill="#000000" d="M157 349h1v1h-1zM158 349h1v1h-1zM159 349h1v1h-1zM160 349h1v1h-1zM161 349h1v1h-1zM162 348h1v1h-1zM163 348h1v1h-1zM164 348h1v1h-1zM165 347h1v1h-1zM166 346h1v1h-1zM167 346h1v1h-1zM168 346h1v1h-1zM169 345h1v1h-1zM170 344h1v2h-1zM171 344h1v1h-1zM172 344h1v1h-1zM173 343h1v1h-1zM174 342h1v1h-1zM175 341h1v2h-1zM176 341h1v1h-1zM177 340h1v1h-1zM178 339h1v2h-1zM179 338h1v2h-1zM180 337h1v2h-1zM181 337h1v1h-1zM182 336h1v1h-1zM183 335h1v1h-1zM184 335h1v1h-1zM185 334h1v1h-1zM186 333h1v2h-1zM187 333h1v1h-1zM188 332h1v1h-1zM189 331h1v2h-1zM190 331h1v1h-1zM191 330h1v2h-1zM192 329h1v2h-1zM193 329h1v1h-1zM194 328h1v2h-1zM195 328h1v1h-1zM196 327h1v1h-1zM197 326h1v1h-1zM198 325h1v2h-1zM199 325h1v1h-1zM200 324h1v2h-1zM201 324h1v1h-1zM202 323h1v1h-1zM203 323h1v1h-1zM204 322h1v1h-1zM205 322h1v1h-1zM206 321h1v2h-1zM207 321h1v1h-1zM208 320h1v2h-1zM209 320h1v1h-1zM210 319h1v1h-1zM211 319h1v1h-1zM212 318h1v1h-1zM213 318h1v1h-1zM214 317h1v2h-1zM215 317h1v1h-1zM216 317h1v1h-1zM217 316h1v2h-1zM218 316h1v1h-1zM219 316h1v1h-1zM220 315h1v1h-1zM221 315h1v1h-1zM222 315h1v1h-1zM223 314h1v1h-1zM224 313h1v1h-1zM225 312h1v1h-1zM226 311h1v2h-1zM227 312h1v2h-1zM228 314h1v1h-1zM229 313h1v1h-1zM230 313h1v1h-1zM231 313h1v1h-1zM232 313h1v1h-1zM233 313h1v1h-1zM234 312h1v2h-1zM235 312h1v1h-1zM236 313h1v1h-1zM237 313h1v1h-1zM238 313h1v1h-1zM239 313h1v1h-1zM240 313h1v1h-1zM241 313h1v1h-1zM242 312h1v1h-1zM243 312h1v1h-1zM244 310h1v4h-1zM245 306h1v4h-1zM246 306h1v2h-1zM247 308h1v1h-1zM248 308h1v1h-1zM249 305h1v3h-1zM250 302h1v3h-1zM251 301h1v1h-1zM252 290h1v12h-1zM253 291h1v11h-1zM254 300h1v2h-1zM255 301h1v3h-1zM256 304h1v5h-1zM257 305h1v2h-1zM258 304h1v2h-1zM259 306h1v4h-1zM260 310h1v3h-1zM261 307h1v3h-1zM262 306h1v3h-1zM263 309h1v3h-1zM264 312h1v1h-1zM265 312h1v1h-1zM266 312h1v1h-1zM267 312h1v1h-1zM268 312h1v1h-1zM269 312h1v1h-1zM270 311h1v1h-1zM271 311h1v1h-1zM272 311h1v1h-1zM273 311h1v1h-1zM274 311h1v1h-1zM275 311h1v1h-1zM276 311h1v1h-1zM277 311h1v1h-1zM278 311h1v1h-1zM279 311h1v1h-1zM280 311h1v1h-1zM281 311h1v1h-1zM282 311h1v1h-1zM283 312h1v1h-1zM284 312h1v1h-1zM285 312h1v1h-1zM286 312h1v1h-1zM287 312h1v1h-1zM288 312h1v1h-1zM289 312h1v1h-1zM290 312h1v1h-1zM291 312h1v1h-1zM292 312h1v1h-1zM293 313h1v1h-1zM294 313h1v1h-1zM295 313h1v1h-1zM296 313h1v1h-1zM297 313h1v1h-1zM298 313h1v1h-1zM299 313h1v1h-1zM300 313h1v1h-1zM301 313h1v1h-1zM302 313h1v2h-1zM303 314h1v2h-1zM304 315h1v1h-1zM305 315h1v1h-1zM306 314h1v2h-1zM307 314h1v1h-1zM308 313h1v2h-1zM309 313h1v1h-1zM310 312h1v1h-1zM311 312h1v2h-1zM312 313h1v1h-1zM313 314h1v1h-1zM314 313h1v1h-1zM315 313h1v2h-1zM316 314h1v2h-1zM317 315h1v1h-1zM318 316h1v1h-1zM319 315h1v1h-1zM320 314h1v1h-1zM321 313h1v2h-1zM322 314h1v2h-1zM323 315h1v2h-1zM324 316h1v1h-1zM325 316h1v1h-1zM326 315h1v2h-1zM327 315h1v1h-1zM328 315h1v1h-1zM329 315h1v1h-1zM330 315h1v1h-1zM331 315h1v1h-1zM332 315h1v1h-1zM333 311h1v4h-1zM334 310h1v2h-1zM335 309h1v2h-1zM336 307h1v2h-1zM337 308h1v2h-1zM338 310h1v4h-1zM339 314h1v2h-1zM340 315h1v2h-1zM341 316h1v2h-1zM342 317h1v1h-1zM343 316h1v2h-1zM344 311h1v5h-1zM345 308h1v3h-1zM346 307h1v4h-1zM347 311h1v4h-1zM348 314h1v3h-1zM349 317h1v1h-1zM350 316h1v2h-1zM351 313h1v4h-1zM352 311h1v2h-1zM353 309h1v2h-1zM354 310h1v4h-1zM355 312h1v1h-1zM356 311h1v2h-1zM357 312h1v3h-1zM358 314h1v1h-1zM359 314h1v2h-1zM360 314h1v1h-1zM361 313h1v2h-1zM362 310h1v4h-1zM363 305h1v5h-1zM364 278h1v27h-1zM365 303h1v5h-1zM366 308h1v6h-1zM367 314h1v4h-1zM368 318h1v2h-1zM369 320h1v1h-1zM370 320h1v1h-1zM371 320h1v1h-1zM372 318h1v3h-1zM373 315h1v3h-1zM374 313h1v2h-1zM375 315h1v1h-1zM376 314h1v1h-1zM377 313h1v2h-1zM378 315h1v1h-1zM379 314h1v2h-1zM380 313h1v2h-1zM381 313h1v1h-1zM382 311h1v2h-1zM383 309h1v2h-1zM384 302h1v8h-1zM385 290h1v12h-1zM386 86h1v204h-1zM387 16h1v70h-1zM388 79h1v140h-1zM389 219h1v39h-1zM390 250h1v4h-1zM391 236h1v16h-1zM392 252h1v40h-1zM393 292h1v5h-1zM394 297h1v6h-1zM395 303h1v5h-1zM396 308h1v3h-1zM397 311h1v3h-1zM398 314h1v4h-1zM399 318h1v1h-1zM400 318h1v2h-1zM401 315h1v5h-1zM402 309h1v6h-1zM403 303h1v6h-1zM404 299h1v4h-1zM405 291h1v8h-1zM406 282h1v9h-1zM407 266h1v16h-1zM408 54h1v215h-1zM409 6h1v263h-1zM410 269h1v2h-1zM411 268h1v1h-1zM412 228h1v41h-1zM413 268h1v1h-1zM414 164h1v105h-1zM415 216h1v54h-1zM416 268h1v3h-1zM417 219h1v49h-1zM418 222h1v64h-1zM419 286h1v3h-1zM420 277h1v14h-1zM421 148h1v129h-1zM422 109h1v158h-1zM423 267h1v12h-1zM424 279h1v10h-1zM425 289h1v8h-1zM426 297h1v6h-1zM427 297h1v5h-1zM428 279h1v18h-1zM429 271h1v8h-1zM430 257h1v14h-1zM431 250h1v12h-1zM432 262h1v7h-1zM433 269h1v1h-1zM434 264h1v7h-1zM435 251h1v18h-1zM436 268h1v11h-1zM437 279h1v11h-1zM438 290h1v14h-1zM439 304h1v6h-1zM440 301h1v8h-1zM441 289h1v12h-1zM442 283h1v6h-1zM443 273h1v10h-1zM444 268h1v5h-1zM445 110h1v158h-1zM446 103h1v165h-1zM447 268h1v22h-1zM448 290h1v2h-1zM449 253h1v37h-1zM450 108h1v145h-1zM451 118h1v150h-1zM452 268h1v13h-1zM453 280h1v9h-1zM454 289h1v6h-1zM455 295h1v2h-1zM456 293h1v4h-1zM457 284h1v9h-1zM458 275h1v9h-1zM459 279h1v5h-1zM460 284h1v11h-1zM461 295h1v12h-1zM462 307h1v13h-1zM463 320h1v6h-1zM464 326h1v3h-1zM465 329h1v1h-1zM466 330h1v2h-1zM467 331h1v1h-1zM468 332h1v1h-1zM469 332h1v1h-1zM470 331h1v1h-1zM471 330h1v2h-1zM472 328h1v2h-1zM473 327h1v1h-1zM474 325h1v2h-1zM475 326h1v1h-1zM476 327h1v2h-1zM477 329h1v3h-1zM478 332h1v1h-1zM479 332h1v2h-1zM480 333h1v1h-1zM481 332h1v1h-1zM482 330h1v2h-1zM483 329h1v2h-1zM484 328h1v2h-1zM485 327h1v1h-1zM486 326h1v1h-1zM487 326h1v1h-1zM488 326h1v1h-1zM489 326h1v1h-1zM490 327h1v1h-1zM491 327h1v1h-1zM492 327h1v1h-1zM493 327h1v1h-1zM494 327h1v1h-1zM495 327h1v2h-1zM496 328h1v1h-1zM497 328h1v2h-1zM498 329h1v1h-1zM499 330h1v1h-1zM500 331h1v1h-1zM501 332h1v1h-1zM502 333h1v2h-1zM503 334h1v1h-1zM504 335h1v2h-1zM505 336h1v1h-1zM506 336h1v2h-1zM507 337h1v1h-1zM508 337h1v1h-1zM509 337h1v1h-1zM510 337h1v1h-1zM511 337h1v1h-1zM512 337h1v1h-1zM513 337h1v1h-1zM514 336h1v2h-1zM515 334h1v2h-1zM516 332h1v2h-1zM517 330h1v3h-1zM518 328h1v3h-1zM519 328h1v1h-1zM520 326h1v2h-1zM521 326h1v1h-1zM522 325h1v1h-1zM523 326h1v2h-1zM524 327h1v2h-1zM525 328h1v2h-1zM526 330h1v2h-1zM527 332h1v2h-1zM528 334h1v2h-1zM529 335h1v2h-1zM530 336h1v1h-1zM531 337h1v1h-1zM532 337h1v1h-1zM533 337h1v1h-1zM534 338h1v1h-1zM535 338h1v1h-1zM536 338h1v1h-1zM537 338h1v1h-1zM538 338h1v1h-1zM539 338h1v1h-1zM540 338h1v1h-1zM541 338h1v1h-1zM542 338h1v1h-1zM543 338h1v1h-1zM544 338h1v1h-1zM545 338h1v1h-1zM546 338h1v1h-1zM547 339h1v1h-1zM548 338h1v2h-1zM549 337h1v1h-1zM550 336h1v2h-1zM551 334h1v2h-1zM552 333h1v2h-1zM553 332h1v2h-1zM554 331h1v2h-1zM555 331h1v1h-1zM556 331h1v2h-1zM557 332h1v2h-1zM558 333h1v2h-1zM559 334h1v2h-1zM560 336h1v1h-1zM561 336h1v2h-1zM562 337h1v2h-1zM563 338h1v1h-1zM564 338h1v1h-1zM565 338h1v2h-1zM566 339h1v1h-1zM567 339h1v1h-1zM568 339h1v1h-1zM569 339h1v1h-1zM570 339h1v1h-1zM571 339h1v1h-1zM572 339h1v1h-1zM573 339h1v1h-1zM574 339h1v1h-1zM575 339h1v1h-1zM576 339h1v1h-1zM577 339h1v1h-1zM578 339h1v1h-1zM579 339h1v1h-1zM580 339h1v1h-1zM581 339h1v1h-1zM582 339h1v1h-1zM583 339h1v1h-1zM584 339h1v1h-1zM585 338h1v2h-1zM586 338h1v1h-1zM587 338h1v1h-1zM588 338h1v1h-1zM589 337h1v2h-1zM590 336h1v2h-1zM591 335h1v2h-1zM592 334h1v1h-1zM593 334h1v1h-1zM594 334h1v1h-1zM595 334h1v1h-1zM596 334h1v2h-1zM597 335h1v2h-1zM598 336h1v2h-1zM599 337h1v2h-1zM600 338h1v2h-1zM601 339h1v1h-1zM602 339h1v1h-1zM603 339h1v1h-1zM604 339h1v1h-1zM605 339h1v1h-1zM606 339h1v1h-1zM607 339h1v1h-1zM608 339h1v1h-1zM609 338h1v2h-1zM610 337h1v2h-1zM611 337h1v1h-1zM612 336h1v1h-1zM613 335h1v2h-1zM614 335h1v1h-1zM615 335h1v1h-1zM616 335h1v1h-1zM617 335h1v2h-1zM618 336h1v1h-1zM619 336h1v2h-1zM620 337h1v1h-1zM621 337h1v2h-1zM622 338h1v1h-1zM623 338h1v1h-1zM624 338h1v1h-1zM625 338h1v1h-1zM626 338h1v1h-1zM627 338h1v1h-1zM628 337h1v2h-1zM629 337h1v1h-1zM630 335h1v2h-1zM631 333h1v2h-1zM632 332h1v2h-1zM633 330h1v2h-1zM634 329h1v2h-1zM635 329h1v2h-1zM636 330h1v1h-1zM637 331h1v1h-1zM638 332h1v2h-1zM639 334h1v1h-1zM640 335h1v2h-1zM641 336h1v2h-1zM642 337h1v2h-1zM643 338h1v1h-1zM644 339h1v1h-1zM645 339h1v1h-1zM646 339h1v1h-1zM647 339h1v1h-1zM648 339h1v1h-1zM649 339h1v1h-1zM650 339h1v1h-1zM651 339h1v1h-1zM652 339h1v1h-1zM653 339h1v1h-1zM654 339h1v1h-1zM655 339h1v1h-1zM656 338h1v1h-1zM657 337h1v2h-1zM658 337h1v1h-1zM659 337h1v1h-1zM660 336h1v1h-1zM661 336h1v2h-1zM662 337h1v1h-1zM663 337h1v2h-1zM664 338h1v1h-1zM665 338h1v2h-1zM666 339h1v1h-1zM667 339h1v1h-1zM668 340h1v1h-1zM669 340h1v1h-1zM670 340h1v1h-1zM671 340h1v1h-1zM672 340h1v1h-1zM673 340h1v1h-1zM674 340h1v1h-1zM675 340h1v1h-1zM676 341h1v1h-1zM677 341h1v1h-1zM678 340h1v2h-1zM679 340h1v1h-1zM680 340h1v1h-1zM681 340h1v1h-1zM682 340h1v1h-1zM683 340h1v1h-1zM684 340h1v1h-1zM685 340h1v1h-1zM686 340h1v1h-1zM687 340h1v1h-1zM688 340h1v1h-1zM689 340h1v1h-1zM690 340h1v1h-1zM691 341h1v1h-1zM692 341h1v1h-1zM693 341h1v1h-1zM694 341h1v1h-1zM695 341h1v1h-1zM696 341h1v1h-1zM697 341h1v1h-1zM698 341h1v1h-1zM699 341h1v1h-1zM700 341h1v1h-1zM701 341h1v1h-1zM702 340h1v2h-1zM703 340h1v1h-1zM704 340h1v1h-1zM705 340h1v1h-1zM706 340h1v1h-1zM707 340h1v1h-1zM708 340h1v1h-1zM709 340h1v1h-1zM710 340h1v1h-1zM711 340h1v1h-1zM712 340h1v1h-1zM713 340h1v1h-1zM714 340h1v1h-1zM715 340h1v1h-1zM716 341h1v1h-1zM717 341h1v2h-1zM718 342h1v1h-1zM719 342h1v1h-1zM720 342h1v1h-1zM721 342h1v1h-1zM722 342h1v1h-1zM723 342h1v1h-1zM724 342h1v1h-1zM725 342h1v1h-1zM726 342h1v1h-1zM727 342h1v1h-1zM728 341h1v2h-1zM729 341h1v1h-1zM730 341h1v1h-1zM731 341h1v1h-1zM732 341h1v1h-1zM733 341h1v1h-1zM734 341h1v1h-1zM735 341h1v1h-1zM736 342h1v1h-1zM737 342h1v1h-1zM738 342h1v1h-1zM739 342h1v1h-1zM740 342h1v1h-1zM741 342h1v1h-1zM742 342h1v1h-1zM743 342h1v1h-1zM744 342h1v1h-1zM745 342h1v1h-1zM746 342h1v1h-1zM747 342h1v1h-1zM748 342h1v1h-1zM749 342h1v1h-1zM750 342h1v1h-1zM751 342h1v1h-1zM752 342h1v1h-1zM753 342h1v1h-1zM754 342h1v1h-1zM755 342h1v1h-1zM756 342h1v1h-1zM757 342h1v1h-1zM758 342h1v1h-1zM759 342h1v1h-1zM760 342h1v1h-1zM761 342h1v1h-1zM762 342h1v1h-1zM763 342h1v1h-1zM764 342h1v1h-1zM765 342h1v1h-1zM766 342h1v1h-1zM767 342h1v1h-1zM768 342h1v1h-1zM769 342h1v1h-1zM770 342h1v1h-1zM771 342h1v1h-1zM772 342h1v1h-1zM773 342h1v1h-1zM774 342h1v1h-1zM775 342h1v1h-1zM776 342h1v1h-1zM777 342h1v1h-1zM778 342h1v1h-1zM779 342h1v1h-1zM780 342h1v1h-1zM781 342h1v1h-1zM782 342h1v1h-1zM783 342h1v1h-1zM784 342h1v1h-1zM785 342h1v1h-1zM786 342h1v1h-1zM787 342h1v1h-1zM788 342h1v1h-1zM789 342h1v1h-1zM790 342h1v1h-1zM791 342h1v1h-1zM792 342h1v1h-1zM793 342h1v1h-1zM794 343h1v1h-1zM795 343h1v1h-1zM796 343h1v1h-1zM797 343h1v1h-1zM798 343h1v1h-1zM799 343h1v1h-1zM800 343h1v1h-1zM801 343h1v1h-1zM802 343h1v1h-1zM803 343h1v1h-1zM804 343h1v1h-1zM805 343h1v1h-1zM806 343h1v1h-1zM807 343h1v1h-1zM808 343h1v1h-1zM809 343h1v1h-1zM810 343h1v1h-1zM811 343h1v1h-1zM812 343h1v1h-1zM813 343h1v1h-1zM814 343h1v1h-1zM815 343h1v1h-1zM816 343h1v1h-1zM817 343h1v1h-1zM818 343h1v1h-1zM819 343h1v1h-1zM820 343h1v1h-1zM821 343h1v1h-1zM822 343h1v1h-1zM823 344h1v1h-1zM824 344h1v1h-1zM825 344h1v1h-1zM826 344h1v1h-1zM827 344h1v1h-1zM828 343h1v2h-1zM829 343h1v1h-1zM830 343h1v1h-1zM831 343h1v1h-1zM832 343h1v1h-1zM833 343h1v1h-1zM834 343h1v1h-1zM835 343h1v1h-1zM836 343h1v1h-1zM837 343h1v1h-1zM838 343h1v1h-1zM839 343h1v1h-1zM840 343h1v1h-1zM841 343h1v1h-1zM842 343h1v1h-1zM843 343h1v1h-1zM844 343h1v1h-1zM845 343h1v1h-1zM846 343h1v1h-1zM847 343h1v2h-1zM848 344h1v1h-1zM849 344h1v1h-1zM850 344h1v1h-1zM851 344h1v1h-1zM852 344h1v1h-1zM853 344h1v1h-1zM854 344h1v1h-1zM855 344h1v1h-1zM856 344h1v1h-1zM857 344h1v1h-1zM858 344h1v1h-1zM859 344h1v1h-1zM860 344h1v1h-1zM861 344h1v1h-1zM862 344h1v1h-1zM863 344h1v1h-1zM864 344h1v1h-1zM865 344h1v1h-1zM866 344h1v1h-1zM867 344h1v1h-1zM868 344h1v1h-1zM869 344h1v1h-1zM870 344h1v1h-1zM871 344h1v1h-1zM872 344h1v1h-1zM873 344h1v1h-1zM874 344h1v1h-1zM875 344h1v1h-1zM876 344h1v1h-1zM877 344h1v1h-1zM878 344h1v1h-1zM879 344h1v1h-1zM880 344h1v1h-1zM881 344h1v1h-1zM882 344h1v1h-1zM883 344h1v1h-1zM884 344h1v1h-1zM885 344h1v1h-1zM886 344h1v1h-1zM887 344h1v1h-1zM888 344h1v1h-1zM889 344h1v1h-1zM890 344h1v1h-1zM891 344h1v1h-1zM892 344h1v1h-1zM893 344h1v1h-1zM894 344h1v1h-1zM895 344h1v1h-1zM896 344h1v1h-1zM897 344h1v1h-1zM898 344h1v1h-1zM899 344h1v1h-1zM900 344h1v1h-1zM901 344h1v1h-1zM902 344h1v1h-1zM903 344h1v1h-1zM904 344h1v1h-1zM905 344h1v1h-1zM906 344h1v1h-1zM907 344h1v1h-1zM908 344h1v1h-1zM909 344h1v1h-1zM910 344h1v1h-1zM911 344h1v1h-1zM912 344h1v1h-1zM913 344h1v1h-1zM914 344h1v1h-1zM915 344h1v1h-1zM916 344h1v1h-1zM917 344h1v1h-1zM918 344h1v1h-1zM919 344h1v1h-1zM920 344h1v1h-1zM921 344h1v1h-1zM922 344h1v1h-1zM923 344h1v1h-1zM924 344h1v1h-1zM925 344h1v1h-1zM926 344h1v1h-1zM927 344h1v1h-1zM928 344h1v1h-1zM929 344h1v1h-1zM930 344h1v1h-1zM931 344h1v1h-1zM932 344h1v1h-1zM933 344h1v1h-1zM934 344h1v1h-1zM935 344h1v1h-1zM936 344h1v1h-1zM937 344h1v1h-1zM938 344h1v1h-1zM939 344h1v1h-1zM940 344h1v1h-1zM941 344h1v1h-1zM942 344h1v1h-1zM943 344h1v1h-1zM944 344h1v1h-1zM945 344h1v1h-1zM946 344h1v1h-1zM947 344h1v1h-1zM948 344h1v1h-1zM949 344h1v1h-1zM950 344h1v1h-1zM951 344h1v1h-1zM952 344h1v1h-1zM953 344h1v1h-1zM954 344h1v1h-1zM955 344h1v1h-1zM956 344h1v1h-1zM957 344h1v1h-1zM958 344h1v1h-1zM959 344h1v1h-1zM960 344h1v1h-1zM961 344h1v2h-1zM962 345h1v1h-1zM963 345h1v1h-1zM964 345h1v1h-1zM965 345h1v1h-1zM966 345h1v1h-1zM967 345h1v1h-1zM968 345h1v1h-1zM969 345h1v1h-1zM970 345h1v1h-1zM971 345h1v1h-1zM972 345h1v1h-1zM973 345h1v1h-1zM974 345h1v1h-1zM975 345h1v1h-1zM976 345h1v1h-1zM977 345h1v1h-1zM978 345h1v1h-1zM979 345h1v1h-1z"/><path fill="#4c6520" d="M176 348h1v2h-1zM177 346h1v3h-1zM178 342h1v4h-1zM179 334h1v9h-1zM180 327h1v7h-1zM181 320h1v8h-1zM182 311h1v9h-1zM183 302h1v10h-1zM184 296h1v14h-1zM185 272h1v26h-1zM186 260h1v24h-1zM187 264h1v10h-1zM188 261h1v12h-1zM189 262h1v17h-1zM190 254h1v17h-1zM191 251h1v10h-1zM192 254h1v20h-1zM193 255h1v5h-1zM194 241h1v21h-1zM195 243h1v14h-1zM196 233h1v14h-1zM197 247h1v27h-1zM198 235h1v32h-1zM199 235h1v18h-1zM200 209h1v28h-1zM201 210h1v14h-1zM202 205h1v15h-1zM203 217h1v27h-1zM204 219h1v26h-1zM205 186h1v37h-1zM206 204h1v42h-1zM207 227h1v40h-1zM208 221h1v11h-1zM209 201h1v29h-1zM210 185h1v56h-1zM211 191h1v87h-1zM212 185h1v84h-1zM213 133h1v76h-1zM214 119h1v14h-1zM215 124h1v8h-1zM216 122h1v18h-1zM217 114h1v36h-1zM218 111h1v27h-1zM219 108h1v16h-1zM220 111h1v14h-1zM221 105h1v31h-1zM222 107h1v10h-1zM223 111h1v10h-1zM224 121h1v40h-1zM225 148h1v51h-1zM226 97h1v51h-1zM227 86h1v36h-1zM228 83h1v42h-1zM229 76h1v32h-1zM230 73h1v8h-1zM231 63h1v37h-1zM232 46h1v17h-1zM233 40h1v25h-1zM234 54h1v23h-1zM235 46h1v8h-1zM236 50h1v8h-1zM237 43h1v10h-1zM238 48h1v9h-1zM239 50h1v14h-1zM240 49h1v13h-1zM241 41h1v18h-1zM242 40h1v12h-1zM243 39h1v11h-1zM244 40h1v6h-1zM245 39h1v7h-1zM246 46h1v61h-1zM247 55h1v37h-1zM248 39h1v19h-1zM249 44h1v22h-1zM250 34h1v17h-1zM251 44h1v10h-1zM252 54h1v10h-1zM253 50h1v21h-1zM254 38h1v23h-1zM255 45h1v15h-1zM256 40h1v14h-1zM257 50h1v16h-1zM258 54h1v56h-1zM259 58h1v34h-1zM260 49h1v19h-1zM261 45h1v12h-1zM262 50h1v44h-1zM263 42h1v13h-1zM264 38h1v39h-1zM265 40h1v27h-1zM266 48h1v16h-1zM267 52h1v26h-1zM268 53h1v13h-1zM269 47h1v11h-1zM270 53h1v10h-1zM271 53h1v3h-1zM272 49h1v10h-1zM273 50h1v9h-1zM274 57h1v16h-1zM275 51h1v19h-1zM276 55h1v6h-1zM277 56h1v19h-1zM278 58h1v13h-1zM279 60h1v16h-1zM280 59h1v9h-1zM281 62h1v8h-1zM282 62h1v10h-1zM283 53h1v9h-1zM284 54h1v6h-1zM285 57h1v27h-1zM286 79h1v25h-1zM287 69h1v10h-1zM288 67h1v10h-1zM289 67h1v4h-1zM290 67h1v6h-1zM291 67h1v9h-1zM292 64h1v3h-1zM293 64h1v4h-1zM294 68h1v3h-1zM295 66h1v13h-1zM296 68h1v10h-1zM297 68h1v12h-1zM298 66h1v12h-1zM299 78h1v2h-1zM300 74h1v8h-1zM301 79h1v11h-1zM302 79h1v11h-1zM303 72h1v9h-1zM304 70h1v10h-1zM305 68h1v8h-1zM306 72h1v4h-1zM307 71h1v4h-1zM308 75h1v12h-1zM309 82h1v10h-1zM310 73h1v12h-1zM311 78h1v46h-1zM312 84h1v34h-1zM313 82h1v2h-1zM314 84h1v2h-1zM315 78h1v6h-1zM316 74h1v7h-1zM317 76h1v4h-1zM318 80h1v3h-1zM319 79h1v4h-1zM320 80h1v4h-1zM321 82h1v2h-1zM322 84h1v4h-1zM323 86h1v79h-1zM324 119h1v31h-1zM325 107h1v12h-1zM326 106h1v6h-1zM327 93h1v15h-1zM328 95h1v11h-1zM329 103h1v5h-1zM330 97h1v6h-1zM331 98h1v3h-1zM332 97h1v3h-1zM333 98h1v5h-1zM334 100h1v22h-1zM335 122h1v41h-1zM336 128h1v46h-1zM337 112h1v28h-1zM338 140h1v12h-1zM339 142h1v10h-1zM340 134h1v12h-1zM341 113h1v25h-1zM342 115h1v5h-1zM343 115h1v8h-1zM344 115h1v5h-1zM345 110h1v5h-1zM346 110h1v2h-1zM347 112h1v2h-1zM348 113h1v3h-1zM349 112h1v4h-1zM350 115h1v2h-1zM351 114h1v196h-1zM352 218h1v103h-1zM353 207h1v56h-1zM354 136h1v71h-1zM355 128h1v8h-1zM356 124h1v4h-1zM357 124h1v1h-1zM358 125h1v2h-1zM359 125h1v4h-1zM360 126h1v2h-1zM361 128h1v2h-1zM362 130h1v8h-1zM363 138h1v4h-1zM364 139h1v4h-1zM365 140h1v5h-1zM366 137h1v6h-1zM367 142h1v3h-1zM368 143h1v4h-1zM369 140h1v9h-1zM370 143h1v6h-1zM371 148h1v7h-1zM372 155h1v30h-1zM373 185h1v7h-1zM374 173h1v20h-1zM375 159h1v63h-1zM376 164h1v33h-1zM377 161h1v27h-1zM378 172h1v8h-1zM379 167h1v13h-1zM380 158h1v14h-1zM381 157h1v4h-1zM382 155h1v4h-1zM383 157h1v3h-1zM384 155h1v7h-1zM385 158h1v12h-1zM386 163h1v17h-1zM387 164h1v24h-1zM388 162h1v20h-1zM389 160h1v2h-1zM390 159h1v3h-1zM391 158h1v6h-1zM392 164h1v24h-1zM393 166h1v5h-1zM394 165h1v3h-1zM395 166h1v7h-1zM396 167h1v3h-1zM397 167h1v6h-1zM398 171h1v6h-1zM399 169h1v4h-1zM400 173h1v4h-1zM401 171h1v3h-1zM402 173h1v12h-1zM403 185h1v28h-1zM404 212h1v17h-1zM405 208h1v38h-1zM406 204h1v25h-1zM407 188h1v27h-1zM408 215h1v14h-1zM409 221h1v10h-1zM410 218h1v13h-1zM411 220h1v21h-1zM412 208h1v29h-1zM413 200h1v17h-1zM414 207h1v6h-1zM415 199h1v19h-1zM416 218h1v52h-1zM417 270h1v27h-1zM418 297h1v26h-1zM419 311h1v9h-1zM420 260h1v56h-1zM421 270h1v28h-1zM422 279h1v18h-1zM423 277h1v37h-1zM424 255h1v68h-1zM425 257h1v42h-1zM426 269h1v24h-1zM427 262h1v37h-1zM428 262h1v17h-1zM429 253h1v13h-1zM430 253h1v10h-1zM431 218h1v37h-1zM432 213h1v16h-1zM433 216h1v25h-1zM434 235h1v6h-1zM435 228h1v7h-1zM436 213h1v22h-1zM437 209h1v14h-1zM438 206h1v13h-1zM439 206h1v4h-1zM440 206h1v5h-1zM441 205h1v5h-1zM442 206h1v3h-1zM443 208h1v2h-1zM444 207h1v4h-1zM445 210h1v10h-1zM446 211h1v6h-1zM447 212h1v1h-1zM448 211h1v2h-1zM449 212h1v3h-1zM450 213h1v3h-1zM451 215h1v4h-1zM452 217h1v2h-1zM453 216h1v3h-1zM454 217h1v2h-1zM455 218h1v1h-1zM456 218h1v3h-1zM457 219h1v1h-1zM458 220h1v2h-1zM459 221h1v1h-1zM460 222h1v1h-1zM461 223h1v4h-1zM462 223h1v3h-1zM463 224h1v2h-1zM464 226h1v1h-1zM465 226h1v1h-1zM466 227h1v5h-1zM467 229h1v3h-1zM468 229h1v2h-1zM469 231h1v4h-1zM470 234h1v5h-1zM471 232h1v3h-1zM472 231h1v6h-1zM473 233h1v2h-1zM474 234h1v6h-1zM475 235h1v4h-1zM476 236h1v9h-1zM477 236h1v7h-1zM478 237h1v7h-1zM479 238h1v15h-1zM480 247h1v8h-1zM481 239h1v16h-1zM482 255h1v6h-1zM483 257h1v5h-1zM484 253h1v22h-1zM485 264h1v8h-1zM486 258h1v29h-1zM487 285h1v22h-1zM488 307h1v29h-1zM489 308h1v21h-1zM490 314h1v21h-1zM491 322h1v9h-1zM492 320h1v21h-1zM493 315h1v22h-1zM494 293h1v39h-1zM495 311h1v37h-1zM496 295h1v17h-1zM497 293h1v21h-1zM498 290h1v21h-1zM499 309h1v21h-1zM500 298h1v42h-1zM501 308h1v20h-1zM502 303h1v21h-1zM503 290h1v17h-1zM504 285h1v9h-1zM505 272h1v24h-1zM506 260h1v15h-1zM507 271h1v8h-1zM508 262h1v9h-1zM509 263h1v2h-1zM510 262h1v24h-1zM511 259h1v11h-1zM512 257h1v25h-1zM513 263h1v26h-1zM514 266h1v7h-1zM515 259h1v28h-1zM516 261h1v18h-1zM517 259h1v6h-1zM518 260h1v8h-1zM519 259h1v15h-1zM520 264h1v17h-1zM521 266h1v8h-1zM522 258h1v24h-1zM523 263h1v9h-1zM524 263h1v7h-1zM525 260h1v10h-1zM526 261h1v8h-1zM527 262h1v3h-1zM528 261h1v3h-1zM529 263h1v3h-1zM530 260h1v8h-1zM531 260h1v5h-1zM532 260h1v3h-1zM533 260h1v4h-1zM534 260h1v2h-1zM535 260h1v3h-1zM536 261h1v2h-1zM537 262h1v2h-1zM538 262h1v1h-1zM539 262h1v1h-1zM540 263h1v2h-1zM541 264h1v3h-1zM542 265h1v3h-1zM543 267h1v6h-1zM544 273h1v3h-1zM545 274h1v6h-1zM546 276h1v28h-1zM547 272h1v18h-1zM548 272h1v1h-1zM549 270h1v2h-1zM550 268h1v2h-1zM551 269h1v10h-1zM552 269h1v7h-1zM553 268h1v2h-1zM554 270h1v3h-1zM555 270h1v5h-1zM556 271h1v3h-1zM557 274h1v6h-1zM558 272h1v11h-1zM559 275h1v13h-1zM560 276h1v17h-1zM561 276h1v16h-1zM562 276h1v17h-1zM563 286h1v7h-1zM564 288h1v8h-1zM565 286h1v7h-1zM566 293h1v8h-1zM567 292h1v14h-1zM568 288h1v15h-1zM569 298h1v19h-1zM570 306h1v17h-1zM571 311h1v12h-1zM572 306h1v11h-1zM573 316h1v3h-1zM574 316h1v5h-1zM575 321h1v16h-1zM576 329h1v15h-1zM577 344h1v6h-1zM578 347h1v3h-1zM601 348h1v2h-1zM602 346h1v4h-1zM603 343h1v6h-1zM604 347h1v3h-1zM605 341h1v8h-1zM606 345h1v3h-1zM607 341h1v9h-1zM608 338h1v9h-1zM609 339h1v11h-1zM610 343h1v4h-1zM611 344h1v4h-1zM612 340h1v5h-1zM613 340h1v4h-1zM614 338h1v9h-1zM615 328h1v17h-1zM616 338h1v11h-1zM617 324h1v20h-1zM618 331h1v7h-1zM619 319h1v12h-1zM620 325h1v10h-1zM621 321h1v22h-1zM622 327h1v17h-1zM623 332h1v8h-1zM624 336h1v12h-1zM625 315h1v25h-1zM626 326h1v12h-1zM627 327h1v12h-1zM628 322h1v18h-1zM629 323h1v4h-1zM630 324h1v15h-1zM631 314h1v10h-1zM632 312h1v7h-1zM633 311h1v8h-1zM634 306h1v9h-1zM635 299h1v13h-1zM636 302h1v15h-1zM637 301h1v19h-1zM638 301h1v14h-1zM639 298h1v9h-1zM640 300h1v8h-1zM641 299h1v5h-1zM642 302h1v2h-1zM643 297h1v5h-1zM644 296h1v3h-1zM645 299h1v2h-1zM646 296h1v6h-1zM647 297h1v3h-1zM648 297h1v3h-1zM649 297h1v2h-1zM650 298h1v2h-1zM651 298h1v1h-1zM652 297h1v2h-1zM653 297h1v3h-1zM654 298h1v1h-1zM655 298h1v1h-1zM656 299h1v2h-1zM657 298h1v2h-1zM658 298h1v2h-1zM659 299h1v1h-1zM660 299h1v2h-1zM661 300h1v3h-1zM662 303h1v3h-1zM663 304h1v2h-1zM664 303h1v3h-1zM665 305h1v5h-1zM666 302h1v3h-1zM667 302h1v2h-1zM668 300h1v3h-1zM669 302h1v4h-1zM670 302h1v3h-1zM671 300h1v2h-1zM672 302h1v2h-1zM673 301h1v5h-1zM674 306h1v2h-1zM675 305h1v2h-1zM676 304h1v3h-1zM677 306h1v3h-1zM678 305h1v3h-1zM679 304h1v3h-1zM680 303h1v3h-1zM681 304h1v2h-1zM682 304h1v1h-1zM683 303h1v2h-1zM684 304h1v1h-1zM685 304h1v2h-1zM686 304h1v2h-1zM687 305h1v1h-1zM688 306h1v3h-1zM689 308h1v2h-1zM690 307h1v3h-1zM691 306h1v3h-1zM692 307h1v2h-1zM693 307h1v4h-1zM694 307h1v3h-1zM695 307h1v2h-1zM696 307h1v2h-1zM697 307h1v2h-1zM698 308h1v5h-1zM699 309h1v8h-1zM700 308h1v2h-1zM701 308h1v2h-1zM702 309h1v1h-1zM703 309h1v2h-1zM704 309h1v5h-1zM705 310h1v3h-1zM706 309h1v4h-1zM707 310h1v2h-1zM708 311h1v3h-1zM709 309h1v3h-1zM710 310h1v3h-1zM711 310h1v6h-1zM712 311h1v2h-1zM713 312h1v1h-1zM714 312h1v1h-1zM715 313h1v1h-1zM716 314h1v1h-1zM717 314h1v1h-1zM718 314h1v1h-1zM719 314h1v1h-1zM720 315h1v1h-1zM721 316h1v1h-1zM722 317h1v1h-1zM723 317h1v1h-1zM724 318h1v1h-1zM725 319h1v1h-1zM726 318h1v1h-1zM727 318h1v1h-1zM728 319h1v1h-1zM729 320h1v1h-1zM730 319h1v1h-1zM731 318h1v1h-1zM732 319h1v2h-1zM733 321h1v1h-1zM734 320h1v1h-1zM735 319h1v2h-1zM736 321h1v3h-1zM737 324h1v2h-1zM738 323h1v2h-1zM739 325h1v2h-1zM740 327h1v2h-1zM741 329h1v2h-1zM742 331h1v1h-1zM743 332h1v2h-1zM744 334h1v2h-1zM745 334h1v1h-1zM746 333h1v2h-1zM747 335h1v4h-1zM748 339h1v3h-1zM749 342h1v2h-1zM750 344h1v1h-1zM751 345h1v2h-1zM752 347h1v1h-1zM753 348h1v1h-1zM754 348h1v1h-1zM755 349h1v1h-1zM756 349h1v1h-1zM801 349h1v1h-1zM802 349h1v1h-1zM803 349h1v1h-1zM804 349h1v1h-1zM805 348h1v1h-1zM806 348h1v1h-1zM807 347h1v1h-1zM808 347h1v1h-1zM809 348h1v1h-1zM810 347h1v1h-1zM811 346h1v1h-1zM812 345h1v1h-1zM813 345h1v1h-1zM814 343h1v2h-1zM815 341h1v2h-1zM816 339h1v2h-1zM817 337h1v2h-1zM818 336h1v1h-1zM819 336h1v1h-1zM820 335h1v1h-1zM821 334h1v1h-1zM822 334h1v1h-1zM823 334h1v1h-1zM824 334h1v1h-1zM825 334h1v3h-1zM826 337h1v4h-1zM827 341h1v3h-1zM828 344h1v2h-1zM829 345h1v3h-1zM830 342h1v3h-1zM831 343h1v2h-1zM832 345h1v1h-1zM833 343h1v2h-1zM834 340h1v3h-1zM835 338h1v2h-1zM836 336h1v2h-1zM837 335h1v1h-1zM838 334h1v1h-1zM839 333h1v1h-1zM840 332h1v1h-1zM841 333h1v1h-1zM842 333h1v1h-1zM843 333h1v1h-1zM844 333h1v1h-1zM845 334h1v2h-1zM846 336h1v2h-1zM847 338h1v1h-1zM848 339h1v1h-1zM849 338h1v1h-1zM850 337h1v1h-1zM851 338h1v1h-1zM852 338h1v1h-1zM853 337h1v1h-1zM854 337h1v1h-1zM855 335h1v2h-1zM856 334h1v1h-1zM857 333h1v1h-1zM858 334h1v1h-1zM859 334h1v1h-1zM860 333h1v1h-1zM861 333h1v1h-1zM862 333h1v1h-1zM863 333h1v1h-1zM864 333h1v1h-1zM865 333h1v1h-1zM866 332h1v1h-1zM867 332h1v1h-1zM868 333h1v1h-1zM869 333h1v1h-1zM870 332h1v1h-1zM871 332h1v1h-1zM872 333h1v1h-1zM873 333h1v1h-1zM874 333h1v1h-1zM875 333h1v1h-1zM876 333h1v1h-1zM877 333h1v1h-1zM878 333h1v1h-1zM879 333h1v1h-1zM880 333h1v1h-1zM881 333h1v1h-1zM882 333h1v1h-1zM883 334h1v1h-1zM884 334h1v1h-1zM885 334h1v1h-1zM886 334h1v1h-1zM887 334h1v1h-1zM888 334h1v1h-1zM889 335h1v1h-1zM890 335h1v1h-1zM891 334h1v1h-1zM892 334h1v1h-1zM893 335h1v1h-1zM894 335h1v1h-1zM895 334h1v1h-1zM896 334h1v1h-1zM897 335h1v1h-1zM898 336h1v1h-1zM899 335h1v1h-1zM900 335h1v1h-1zM901 335h1v1h-1zM902 336h1v1h-1zM903 336h1v1h-1zM904 336h1v1h-1zM905 336h1v1h-1zM906 335h1v1h-1zM907 335h1v1h-1zM908 335h1v1h-1zM909 335h1v1h-1zM910 335h1v1h-1zM911 335h1v1h-1zM912 336h1v1h-1zM913 336h1v1h-1zM914 335h1v1h-1zM915 335h1v1h-1zM916 336h1v1h-1zM917 336h1v1h-1zM918 336h1v1h-1zM919 336h1v1h-1zM920 336h1v1h-1zM921 336h1v1h-1zM922 336h1v1h-1zM923 337h1v1h-1zM924 337h1v1h-1zM925 337h1v1h-1zM926 337h1v1h-1zM927 337h1v1h-1zM928 337h1v1h-1zM929 338h1v1h-1zM930 338h1v1h-1zM931 338h1v1h-1zM932 338h1v1h-1zM933 337h1v1h-1zM934 337h1v1h-1zM935 338h1v1h-1zM936 338h1v1h-1zM937 338h1v1h-1zM938 338h1v1h-1zM939 338h1v1h-1zM940 338h1v1h-1zM941 339h1v1h-1zM942 339h1v1h-1zM943 339h1v1h-1zM944 339h1v1h-1zM945 338h1v1h-1zM946 338h1v1h-1zM947 339h1v1h-1zM948 340h1v1h-1zM949 340h1v1h-1zM950 339h1v1h-1zM951 339h1v1h-1zM952 339h1v1h-1zM953 339h1v1h-1zM954 339h1v1h-1zM955 339h1v1h-1zM956 340h1v1h-1zM957 341h1v1h-1zM958 340h1v1h-1zM959 340h1v1h-1zM960 341h1v1h-1zM961 342h1v1h-1zM962 341h1v1h-1zM963 341h1v1h-1zM964 340h1v1h-1zM965 340h1v1h-1zM966 341h1v1h-1zM967 341h1v2h-1zM968 343h1v2h-1zM969 343h1v1h-1zM970 342h1v1h-1zM971 342h1v1h-1zM972 342h1v1h-1zM973 343h1v1h-1zM974 344h1v1h-1zM975 343h1v1h-1zM976 343h1v1h-1zM977 342h1v1h-1zM978 342h1v1h-1zM979 342h1v1h-1z"/></svg>
<div class="t" style="left:562px;top:24px;font-size:13px;color:#4c6520;transform:scaleX(1.1)">Sun, 42°, UVI 3.7, 116 000 lx (ASTM)</div>
<div class="t mono" style="left:378px;top:194.5px;font-size:13.3px;color:#5a5a5a;transform:scaleY(1.1)">lamps.licht-im-terrarium.de&gt;478</div>
<div class="t lm" style="left:59px;top:280px;transform:scaleX(1.18)">Lamp scaled to</div>
<div class="t lm" style="left:59px;top:293px;transform:scaleX(1.163)">UVI 43.6</div>
<div class="t lm" style="left:59px;top:306px;transform:scaleX(1.2)">15792 lx</div>
<div class="tk" style="left:30.0px">0</div><div class="tk" style="left:106.7px">200</div><div class="tk" style="left:183.3px">400</div><div class="tk" style="left:260.0px">600</div><div class="tk" style="left:336.7px">800</div><div class="tk" style="left:412.3px;transform:scaleX(1.08)">1000</div><div class="tk" style="left:489.0px;transform:scaleX(1.08)">1200</div><div class="tk" style="left:565.7px;transform:scaleX(1.08)">1400</div><div class="tk" style="left:642.3px;transform:scaleX(1.08)">1600</div><div class="tk" style="left:719.0px;transform:scaleX(1.08)">1800</div><div class="tk" style="left:795.7px;transform:scaleX(1.08)">2000</div><div class="tk" style="left:872.3px;transform:scaleX(1.08)">2200</div><div class="tk" style="left:949.0px;transform:scaleX(1.08)">2400</div>
<div class="t" style="left:873px;top:375px;font-size:12px;color:#444;transform:scaleX(1.1)">wavelength λ [nm]</div>
<div class="t mono" style="left:20px;top:379px;font-size:13.3px;color:#000088;transform:scaleY(1.12)">NP-Xe1 (other Newport 6253 Xenon Lamp)</div>
<div class="t" style="left:3px;top:274px;font-size:11px;color:#383838;transform:rotate(-90deg) scaleX(1.18)">spectral irradiance [µW/cm²/nm]</div>
</body></html>
